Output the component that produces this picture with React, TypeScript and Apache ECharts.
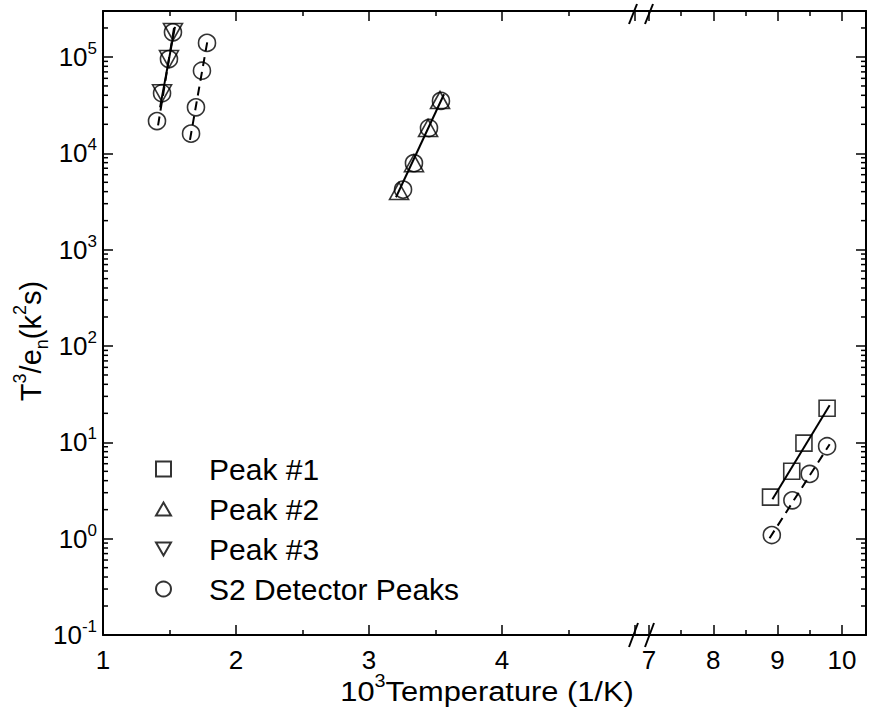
import React, { useEffect, useRef } from 'react';
import * as echarts from 'echarts';

const FONT = '"Liberation Sans", Arial, Helvetica, sans-serif';

// x-axis segments (broken axis)
const X_LEFT_MIN = 1;
const X_LEFT_MAX = 5;
const X_RIGHT_MIN = 7;
const X_RIGHT_MAX = 10.375;
const Y_MIN = 0.1;
const Y_MAX = 300000;

// Peak #1 (squares)
const peak1X = [8.89, 9.22, 9.41, 9.77];
const peak1Y = [2.7, 5.0, 9.8, 22.6];
// Peak #2 (up triangles)
const peak2X = [3.226, 3.338, 3.444, 3.534];
const peak2Y = [4060, 7900, 18300, 35700];
// Peak #3 (down triangles)
const peak3X = [1.444, 1.496, 1.526];
const peak3Y = [42000, 95000, 182000];
// S2 detector peaks (circles)
const s2LeftX = [1.406, 1.444, 1.496, 1.526, 1.662, 1.699, 1.744, 1.782, 3.256, 3.338, 3.451, 3.541];
const s2LeftY = [21600, 42000, 95000, 180000, 16000, 30000, 72000, 140000, 4200, 7900, 18300, 35000];
const s2RightX = [8.91, 9.23, 9.5, 9.77];
const s2RightY = [1.09, 2.5, 4.7, 9.1];

// Fit lines (end points)
const fit1X = [8.92, 9.81];
const fit1Y = [2.57, 24.3];
const fit2X = [3.203, 3.564];
const fit2Y = [3500, 41000];
const fit3X = [1.429, 1.541];
const fit3Y = [30000, 205000];
const fitS2aX = [1.414, 1.534];
const fitS2aY = [19500, 200000];
const fitS2bX = [1.654, 1.79];
const fitS2bY = [13800, 160000];
const fitS2cX = [8.875, 9.81];
const fitS2cY = [1.01, 9.55];

const legendNames = ['Peak #1', 'Peak #2', 'Peak #3', 'S2 Detector Peaks'];

const zip = (xs: number[], ys: number[]) => xs.map((x, i) => [x, ys[i]]);

const TRI_UP = 'path://M5,0 L10,8.66 L0,8.66 Z';
const TRI_DOWN = 'path://M0,0 L10,0 L5,8.66 Z';

const GRID_TOP = 11;
const GRID_BOTTOM = 635;
const LEFT_L = 103;
const LEFT_R = 635;
const RIGHT_L = 649;
const RIGHT_R = 866;

const lineStyle = { color: '#000', width: 2 };
const tickStyle = { color: '#000', width: 1.5 };

function xAxis(grid: number, position: string, min: number, max: number, labels: boolean) {
  return {
    type: 'value',
    gridIndex: grid,
    position,
    min,
    max,
    interval: 1,
    axisLine: { show: true, onZero: false, lineStyle },
    axisTick: { show: true, inside: true, length: 10, lineStyle: tickStyle },
    minorTick: { show: true, splitNumber: 2, length: 5, lineStyle: tickStyle },
    splitLine: { show: false },
    minorSplitLine: { show: false },
    axisLabel: {
      show: labels,
      margin: 12,
      fontSize: 26,
      fontFamily: FONT,
      color: '#000',
      formatter: (v: number) => (Number.isInteger(v) && v !== 5 ? String(v) : ''),
    },
  };
}

function yAxis(grid: number, position: string, labels: boolean) {
  return {
    type: 'log',
    logBase: 10,
    gridIndex: grid,
    position,
    min: Y_MIN,
    max: Y_MAX,
    axisLine: { show: true, onZero: false, lineStyle },
    axisTick: { show: true, inside: true, length: 10, lineStyle: tickStyle },
    minorTick: { show: false },
    splitLine: { show: false },
    axisLabel: {
      show: labels,
      margin: 6,
      color: '#000',
      fontFamily: FONT,
      formatter: (v: number) => {
        const l = Math.log10(v);
        const n = Math.round(l);
        if (Math.abs(l - n) > 1e-6) return '';
        return `{b|10}{s|${n}}`;
      },
      rich: {
        b: { fontSize: 26, lineHeight: 34, fontFamily: FONT, color: '#000' },
        s: { fontSize: 17, lineHeight: 17, verticalAlign: 'top', fontFamily: FONT, color: '#000' },
      },
    },
  };
}

const markerStyle = { color: 'rgba(0,0,0,0)', borderColor: '#000', borderWidth: 1.6 };

function scatter(name: string, xi: number, yi: number, xs: number[], ys: number[], symbol: string, size: any) {
  return {
    type: 'scatter',
    name,
    xAxisIndex: xi,
    yAxisIndex: yi,
    data: zip(xs, ys),
    symbol,
    symbolSize: size,
    itemStyle: markerStyle,
    emphasis: { disabled: true },
    z: 3,
  };
}

function fit(name: string, xi: number, yi: number, xs: number[], ys: number[], dashed: boolean) {
  return {
    type: 'line',
    name,
    xAxisIndex: xi,
    yAxisIndex: yi,
    data: zip(xs, ys),
    symbol: 'none',
    lineStyle: { color: '#000', width: 2, type: dashed ? [9, 6] : 'solid' },
    emphasis: { disabled: true },
    z: 4,
  };
}

const option: any = {
  animation: false,
  backgroundColor: '#fff',
  grid: [
    { left: LEFT_L, top: GRID_TOP, width: LEFT_R - LEFT_L, height: GRID_BOTTOM - GRID_TOP },
    { left: RIGHT_L, top: GRID_TOP, width: RIGHT_R - RIGHT_L, height: GRID_BOTTOM - GRID_TOP },
  ],
  xAxis: [
    xAxis(0, 'bottom', X_LEFT_MIN, X_LEFT_MAX, true),
    xAxis(0, 'top', X_LEFT_MIN, X_LEFT_MAX, false),
    xAxis(1, 'bottom', X_RIGHT_MIN, X_RIGHT_MAX, true),
    xAxis(1, 'top', X_RIGHT_MIN, X_RIGHT_MAX, false),
  ],
  yAxis: [yAxis(0, 'left', true), yAxis(1, 'right', false)],
  legend: {
    data: legendNames,
    orient: 'vertical',
    left: 150,
    top: 449,
    itemWidth: 15,
    itemHeight: 15,
    itemGap: 10,
    selectedMode: false,
    textStyle: { fontSize: 30, fontFamily: FONT, color: '#000', lineHeight: 28, padding: [0, 0, 0, 33] },
  },
  series: [
    scatter('Peak #1', 2, 1, peak1X, peak1Y, 'rect', 16),
    scatter('Peak #2', 0, 0, peak2X, peak2Y, TRI_UP, [19, 17]),
    scatter('Peak #3', 0, 0, peak3X, peak3Y, TRI_DOWN, [19, 17]),
    scatter('S2 Detector Peaks', 0, 0, s2LeftX, s2LeftY, 'circle', 17),
    scatter('S2 Detector Peaks', 2, 1, s2RightX, s2RightY, 'circle', 17),
    fit('fit1', 2, 1, fit1X, fit1Y, false),
    fit('fit2', 0, 0, fit2X, fit2Y, false),
    fit('fit3', 0, 0, fit3X, fit3Y, false),
    fit('fitS2a', 0, 0, fitS2aX, fitS2aY, true),
    fit('fitS2b', 0, 0, fitS2bX, fitS2bY, true),
    fit('fitS2c', 2, 1, fitS2cX, fitS2cY, true),
  ],
};

export default function App() {
  const ref = useRef<HTMLDivElement>(null);
  useEffect(() => {
    const chart = echarts.init(ref.current!, null, { renderer: 'svg' });
    chart.setOption(option);

    const g: any[] = [];
    const ln = (x1: number, y1: number, x2: number, y2: number, w = 1.5) => ({
      type: 'line',
      shape: { x1, y1, x2, y2 },
      style: { stroke: '#000', lineWidth: w },
      silent: true,
      z: 10,
    });

    // minor log ticks on both vertical spines
    const lx = chart.convertToPixel({ xAxisIndex: 0 }, X_LEFT_MIN) as number;
    const rx = chart.convertToPixel({ xAxisIndex: 2 }, X_RIGHT_MAX) as number;
    for (let n = -1; n <= 5; n++) {
      for (let k = 2; k <= 9; k++) {
        const v = k * Math.pow(10, n);
        if (v >= Y_MAX) break;
        const y = chart.convertToPixel({ yAxisIndex: 0 }, v) as number;
        g.push(ln(lx, y, lx + 5, y));
        g.push(ln(rx - 5, y, rx, y));
      }
    }

    // fill spine gap across the break
    const bx0 = chart.convertToPixel({ xAxisIndex: 0 }, X_LEFT_MAX) as number;
    const bx1 = chart.convertToPixel({ xAxisIndex: 2 }, X_RIGHT_MIN) as number;
    g.push(ln(bx0, GRID_BOTTOM, bx1, GRID_BOTTOM, 2));
    g.push(ln(bx0, GRID_TOP, bx1, GRID_TOP, 2));

    // break marks
    g.push(ln(629, 647, 638, 623, 2));
    g.push(ln(645, 647, 654, 623, 2));
    g.push(ln(629, 24, 637, 4, 2));
    g.push(ln(645, 24, 653, 4, 2));

    // axis titles
    g.push({
      type: 'text',
      x: 487,
      y: 691,
      scaleX: 1.1,
      silent: true,
      style: {
        text: '{n|10}{s|3}{n|Temperature (1/K)}',
        align: 'center',
        verticalAlign: 'middle',
        fill: '#000',
        rich: {
          n: { fontSize: 28, lineHeight: 38, fontFamily: FONT, fill: '#000' },
          s: { fontSize: 18, lineHeight: 18, verticalAlign: 'top', fontFamily: FONT, fill: '#000' },
        },
      },
    });
    g.push({
      type: 'text',
      x: 31,
      y: 341,
      rotation: Math.PI / 2,
      silent: true,
      style: {
        text: '{n|T}{s|3}{n|/e}{d|n}{n|(k}{s|2}{n|s)}',
        align: 'center',
        verticalAlign: 'middle',
        fill: '#000',
        rich: {
          n: { fontSize: 29, lineHeight: 40, fontFamily: FONT, fill: '#000' },
          s: { fontSize: 18, lineHeight: 18, verticalAlign: 'top', fontFamily: FONT, fill: '#000' },
          d: { fontSize: 18, lineHeight: 18, verticalAlign: 'bottom', fontFamily: FONT, fill: '#000' },
        },
      },
    });

    chart.setOption({ graphic: g });
    return () => chart.dispose();
  }, []);
  return <div ref={ref} style={{ position: 'fixed', left: 0, top: 0, width: 870, height: 713 }} />;
}
